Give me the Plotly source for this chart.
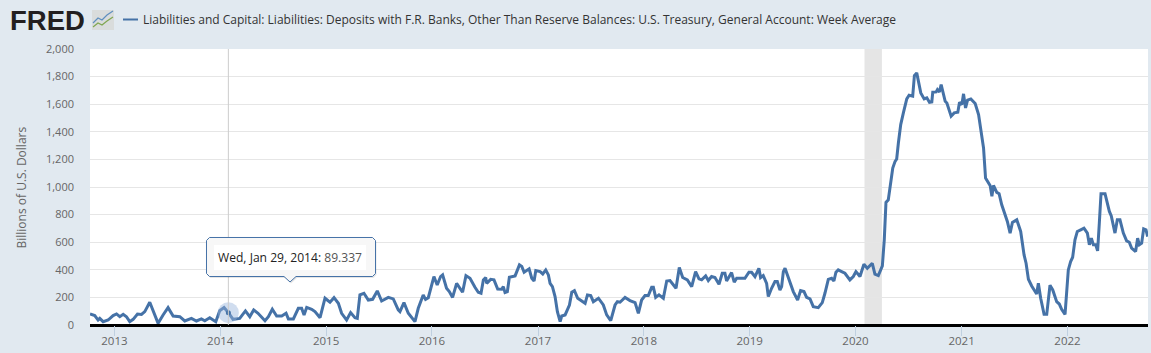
import pandas as pd
import plotly.graph_objects as go

SERIES_NAME = "Liabilities and Capital: Liabilities: Deposits with F.R. Banks, Other Than Reserve Balances: U.S. Treasury, General Account: Week Average"
Y_TITLE = "Billions of U.S. Dollars"
y_ticks = [0, 200, 400, 600, 800, 1000, 1200, 1400, 1600, 1800, 2000]
x_tick_years = [2013, 2014, 2015, 2016, 2017, 2018, 2019, 2020, 2021, 2022]

years_a = [2012.77, 2012.815, 2012.846, 2012.862, 2012.894, 2012.941, 2012.988, 2013.02, 2013.051, 2013.083,
           2013.114, 2013.145, 2013.177, 2013.218, 2013.256, 2013.287, 2013.334, 2013.366, 2013.413, 2013.46,
           2013.507, 2013.555, 2013.618, 2013.665, 2013.728, 2013.775, 2013.822, 2013.854, 2013.901, 2013.958,
           2013.995, 2014.036, 2014.077, 2014.121, 2014.184, 2014.238, 2014.279, 2014.316, 2014.357]
values_a = [80, 68, 36, 48, 24, 36, 68, 80, 60, 77,
            60, 24, 41, 80, 77, 97, 165, 97, 12, 73,
            126, 65, 60, 29, 48, 29, 44, 31, 53, 24,
            104, 126, 89.337, 41, 48, 102, 60, 109, 85]

years_b = [2014.423, 2014.455, 2014.492, 2014.533, 2014.581, 2014.622, 2014.644, 2014.691, 2014.738, 2014.769,
           2014.792, 2014.817, 2014.864, 2014.895, 2014.943, 2014.99, 2015.037, 2015.075, 2015.116, 2015.147,
           2015.194, 2015.232, 2015.273, 2015.295, 2015.32, 2015.358, 2015.399, 2015.44, 2015.484, 2015.525,
           2015.588, 2015.635, 2015.682, 2015.698, 2015.736, 2015.777, 2015.84, 2015.871, 2015.918, 2015.94,
           2015.966, 2015.997]
values_b = [31, 60, 114, 65, 65, 85, 44, 44, 121, 121,
            73, 128, 114, 97, 53, 194, 165, 198, 157, 85,
            36, 90, 53, 48, 218, 230, 181, 186, 247, 174,
            200, 189, 109, 97, 162, 85, 24, 121, 218, 186,
            198, 278]

years_c = [2016.019, 2016.05, 2016.082, 2016.101, 2016.138, 2016.164, 2016.195, 2016.233, 2016.289, 2016.321,
           2016.359, 2016.406, 2016.437, 2016.463, 2016.485, 2016.507, 2016.516, 2016.554, 2016.585, 2016.62,
           2016.658, 2016.673, 2016.689, 2016.711, 2016.73, 2016.784, 2016.825, 2016.847, 2016.869, 2016.916,
           2016.941, 2016.963, 2016.979, 2017.02, 2017.045, 2017.073, 2017.098, 2017.114, 2017.136, 2017.161,
           2017.183, 2017.209, 2017.224, 2017.256, 2017.297, 2017.319, 2017.344, 2017.375, 2017.413, 2017.445,
           2017.467, 2017.498, 2017.523, 2017.571]
values_c = [351, 290, 351, 363, 266, 242, 200, 302, 237, 358,
            339, 273, 237, 230, 327, 344, 302, 331, 327, 261,
            259, 278, 235, 242, 346, 356, 436, 424, 382, 407,
            339, 319, 394, 387, 370, 399, 363, 302, 278, 206,
            97, 24, 65, 73, 145, 237, 249, 194, 177, 157,
            218, 213, 169, 194]

years_d = [2017.617, 2017.649, 2017.687, 2017.728, 2017.75, 2017.775, 2017.822, 2017.869, 2017.917, 2017.948,
           2017.979, 2018.011, 2018.042, 2018.074, 2018.09, 2018.112, 2018.143, 2018.184, 2018.216, 2018.247,
           2018.304, 2018.335, 2018.367, 2018.411, 2018.452, 2018.489, 2018.521, 2018.546, 2018.584, 2018.609,
           2018.64, 2018.672, 2018.71, 2018.741, 2018.766, 2018.782, 2018.829, 2018.854, 2018.877, 2018.908,
           2018.955, 2018.993, 2019.018, 2019.05, 2019.087, 2019.103, 2019.128, 2019.16, 2019.176, 2019.207,
           2019.239, 2019.261, 2019.286]
values_d = [145, 73, 31, 145, 169, 165, 200, 177, 162, 85,
            181, 213, 213, 273, 273, 200, 218, 194, 319, 322,
            266, 416, 344, 327, 278, 387, 334, 327, 356, 322,
            351, 344, 295, 375, 375, 319, 380, 310, 339, 339,
            339, 382, 382, 351, 411, 344, 358, 302, 206, 266,
            315, 315, 254]

years_e = [2019.302, 2019.318, 2019.334, 2019.365, 2019.412, 2019.453, 2019.481, 2019.513, 2019.538, 2019.57,
           2019.601, 2019.648, 2019.686, 2019.711, 2019.743, 2019.774, 2019.796, 2019.815, 2019.837, 2019.869,
           2019.9, 2019.947, 2019.979, 2020.004, 2020.042, 2020.079, 2020.111, 2020.158, 2020.183, 2020.215,
           2020.253, 2020.271, 2020.287, 2020.309]
values_e = [278, 387, 411, 339, 242, 181, 249, 242, 200, 189,
            133, 126, 162, 230, 331, 339, 319, 382, 399, 387,
            375, 327, 351, 387, 351, 440, 411, 447, 368, 358,
            428, 617, 888, 907]

years_f = [2020.325, 2020.351, 2020.373, 2020.388, 2020.404, 2020.426, 2020.451, 2020.483, 2020.505, 2020.539,
           2020.555, 2020.577, 2020.615, 2020.647, 2020.672, 2020.697, 2020.719, 2020.728, 2020.76, 2020.772,
           2020.791, 2020.807, 2020.845, 2020.861, 2020.901, 2020.93, 2020.964, 2020.98, 2021.002, 2021.018,
           2021.037, 2021.056, 2021.087, 2021.128, 2021.16, 2021.185, 2021.207, 2021.226, 2021.254, 2021.27,
           2021.286, 2021.301]
values_f = [992, 1137, 1186, 1203, 1319, 1452, 1537, 1638, 1665, 1658,
            1808, 1827, 1682, 1638, 1646, 1614, 1617, 1687, 1689, 1706,
            1689, 1742, 1621, 1609, 1513, 1537, 1542, 1614, 1597, 1675,
            1573, 1629, 1638, 1605, 1525, 1379, 1283, 1065, 1024, 1009,
            932, 1012]

years_g = [2021.332, 2021.354, 2021.379, 2021.41, 2021.432, 2021.458, 2021.48, 2021.521, 2021.558, 2021.59,
           2021.609, 2021.631, 2021.662, 2021.709, 2021.725, 2021.747, 2021.779, 2021.804, 2021.82, 2021.835,
           2021.861, 2021.898, 2021.923, 2021.945, 2021.977, 2022.008, 2022.03, 2022.049, 2022.071, 2022.093,
           2022.125, 2022.156, 2022.188, 2022.207, 2022.226, 2022.245, 2022.267, 2022.285, 2022.301, 2022.317,
           2022.355, 2022.396, 2022.414, 2022.449, 2022.471, 2022.496, 2022.528, 2022.559, 2022.584, 2022.606,
           2022.644, 2022.663, 2022.679, 2022.701, 2022.72, 2022.742, 2022.758]
values_g = [961, 951, 871, 799, 750, 666, 743, 762, 678, 508,
            448, 332, 283, 225, 303, 194, 77, 77, 206, 288,
            254, 169, 152, 114, 77, 399, 460, 491, 617, 678,
            690, 702, 666, 581, 629, 581, 581, 537, 738, 951,
            951, 823, 791, 666, 762, 762, 666, 610, 600, 557,
            532, 629, 581, 593, 697, 690, 641]

recession_start = "2020-02-01"
recession_end = "2020-04-01"
hover_date = "2014-01-29"
hover_value = 89.337
hover_label = "Wed, Jan 29, 2014:"


def to_date(y):
    yr = int(y)
    start = pd.Timestamp(year=yr, month=1, day=1)
    end = pd.Timestamp(year=yr + 1, month=1, day=1)
    return start + (end - start) * (y - yr)


years = years_a + years_b + years_c + years_d + years_e + years_f + years_g
values = values_a + values_b + values_c + values_d + values_e + values_f + values_g
dates = [to_date(y) for y in years]

W, H = 1151, 353
L, R, T, B = 90, 1148, 49, 325
px = lambda v: (v - L) / (R - L)
py = lambda v: (B - v) / (B - T)

BLUE = "#4572a7"
BG = "#e1e9f0"
TXT = "#666666"
FONT = "Open Sans"

fig = go.Figure()
fig.add_trace(go.Scatter(x=dates, y=values, mode="lines", name=SERIES_NAME,
                         line=dict(color=BLUE, width=3, shape="linear"), hoverinfo="x+y"))
fig.add_trace(go.Scatter(x=[hover_date], y=[hover_value], mode="markers", showlegend=False, hoverinfo="skip",
                         marker=dict(size=21, color="rgba(150,180,220,0.45)", line_width=0)))
fig.add_trace(go.Scatter(x=[hover_date], y=[hover_value], mode="markers", showlegend=False, hoverinfo="skip",
                         marker=dict(size=5, color=BLUE, line_width=0)))

shapes = [
    dict(type="rect", xref="x", yref="paper", x0=recession_start, x1=recession_end, y0=0, y1=1,
         fillcolor="#e5e5e5", line_width=0, layer="below"),
    dict(type="line", xref="x", yref="paper", x0=hover_date, x1=hover_date, y0=0, y1=1,
         line=dict(color="#cccccc", width=1), layer="above"),
]


def P(x, y):
    return f"{px(x):.5f},{py(y):.5f}"


# Tooltip outline with pointer (paper coordinates), plus a faint shadow
def tip_path(dx, dy):
    x0, x1, y0, y1, r = 206.5 + dx, 375.5 + dx, 237.5 + dy, 276.5 + dy, 3
    return (f"M {P(x0+r,y0)} L {P(x1-r,y0)} L {P(x1,y0+r)} L {P(x1,y1-r)} L {P(x1-r,y1)} "
            f"L {P(296+dx,y1)} L {P(290+dx,282+dy)} L {P(284+dx,y1)} L {P(x0+r,y1)} L {P(x0,y1-r)} L {P(x0,y0+r)} Z")


shapes.append(dict(type="path", xref="paper", yref="paper", path=tip_path(1, 1.5),
                   fillcolor="rgba(0,0,0,0.10)", line_width=0, layer="above"))
shapes.append(dict(type="path", xref="paper", yref="paper", path=tip_path(0, 0),
                   fillcolor="rgb(247,247,247)", line=dict(color=BLUE, width=1), layer="above"))
shapes.append(dict(type="rect", xref="paper", yref="paper", x0=px(214), x1=px(366), y0=py(245), y1=py(270),
                   fillcolor="white", line_width=0, layer="above"))
# Legend key
shapes.append(dict(type="line", xref="paper", yref="paper", x0=px(123), x1=px(138), y0=py(19.5), y1=py(19.5),
                   line=dict(color=BLUE, width=2)))
# Logo icon
shapes.append(dict(type="rect", xref="paper", yref="paper", x0=px(92), x1=px(114), y0=py(10), y1=py(30),
                   fillcolor="#d9dcdc", line_width=0))
shapes.append(dict(type="path", xref="paper", yref="paper", line=dict(color="#5f8fbf", width=1.2),
                   path=f"M {P(93,23)} L {P(98,18)} L {P(102,20)} L {P(107,15)} L {P(113,11)}"))
shapes.append(dict(type="path", xref="paper", yref="paper", line=dict(color="#7fa650", width=1.2),
                   path=f"M {P(93,27)} L {P(98,23)} L {P(102,25)} L {P(107,21)} L {P(113,17)}"))

annotations = [
    dict(xref="paper", yref="paper", x=px(141), y=py(19.5), xanchor="left", yanchor="middle", showarrow=False,
         text=SERIES_NAME, font=dict(family=FONT, size=12, color="#333333")),
    dict(xref="paper", yref="paper", x=px(8), y=py(20.5), xanchor="left", yanchor="middle", showarrow=False,
         text="<b>FRED</b>", font=dict(family="Liberation Sans", size=27.5, color="#231f20")),
    dict(xref="paper", yref="paper", x=px(216), y=py(257), xanchor="left", yanchor="middle", showarrow=False,
         text=f"<span style='color:#222222'>{hover_label}</span> {hover_value}",
         font=dict(family=FONT, size=12.1, color="#555555")),
    dict(xref="paper", yref="paper", x=px(21), y=py(187.5), xanchor="center", yanchor="middle", showarrow=False,
         text=Y_TITLE, textangle=-90, font=dict(family=FONT, size=12, color=TXT)),
]

fig.update_layout(
    width=W, height=H, autosize=False,
    margin=dict(l=L, r=W - R, t=T, b=H - B, pad=0),
    paper_bgcolor=BG, plot_bgcolor="white", showlegend=False,
    font=dict(family=FONT, size=11, color=TXT),
    shapes=shapes, annotations=annotations,
    xaxis=dict(range=[to_date(2012.77), to_date(2022.761)], type="date",
               tickvals=[f"{y}-01-01" for y in x_tick_years], ticktext=[str(y) for y in x_tick_years],
               ticks="outside", ticklen=10, tickcolor="#c0d0e0", tickwidth=1,
               showgrid=False, zeroline=False, showline=False, ticklabelstandoff=-5,
               tickfont=dict(family=FONT, size=11.5, color=TXT)),
    yaxis=dict(range=[0, 2000], tickvals=y_ticks, tickformat=",", ticks="", showgrid=True,
               gridcolor="#e6e6e6", gridwidth=1, zeroline=True, zerolinecolor="black", zerolinewidth=2.5,
               showline=False, ticklabelstandoff=15,
               tickfont=dict(family=FONT, size=11, color=TXT)),
)

fig.write_html("out.html", post_script="document.body.style.margin='0';document.body.style.background='%s';" % BG,
               config=dict(displayModeBar=False))
